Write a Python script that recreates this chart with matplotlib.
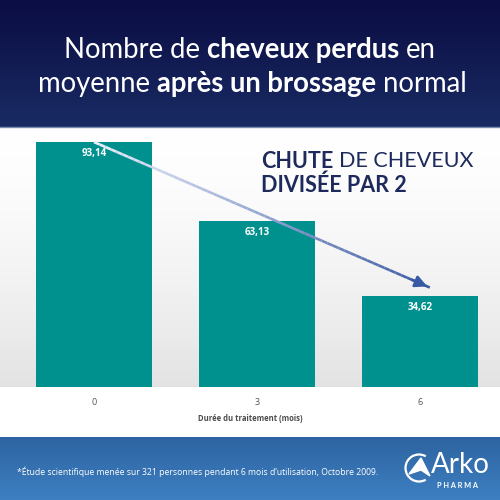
import numpy as np
import matplotlib
matplotlib.use('Agg')
import matplotlib.pyplot as plt
from matplotlib.collections import LineCollection
from matplotlib.patches import Arc, Polygon

# data
mois = ['0', '3', '6']
cheveux = [93.14, 63.13, 34.62]
etiquettes = ['93,14', '63,13', '34,62']

titre_l1 = [('Nombre de', 'normal'), ('cheveux perdus', 'bold'), ('en', 'normal')]
titre_l2 = [('moyenne', 'normal'), ('après un brossage', 'bold'), ('normal', 'normal')]
chute_l1 = [('CHUTE', 'bold'), ('DE CHEVEUX', 'normal')]
chute_l2 = [('DIVISÉE PAR 2', 'bold')]
x_label = 'Durée du traitement (mois)'
note = '*Étude scientifique menée sur 321 personnes pendant 6 mois d\u2019utilisation, Octobre 2009.'

W = 500
H = 500
fig = plt.figure(figsize=(5, 5), dpi=100)


def fy(y):
    # pixel row (from top) -> figure fraction
    return 1 - y / H


# backgrounds
bg = fig.add_axes([0, 0, 1, 1], zorder=0)
bg.set_xlim(0, W)
bg.set_ylim(H, 0)
bg.axis('off')

top = np.array([0.04, 0.05, 0.26])
bot = np.array([0.10, 0.17, 0.39])
g = np.linspace(0, 1, 100)[:, None, None]
bg.imshow(top + (bot - top) * g, extent=[0, W, 127, 0], aspect='auto')
bg.plot([0, W], [127, 127], color='#7b8bb0', lw=1)

c1 = np.array([1.0, 1.0, 1.0])
c2 = np.array([0.89, 0.89, 0.89])
bg.imshow(c1 + (c2 - c1) * g ** 1.5, extent=[0, W, 387, 128], aspect='auto')
bg.imshow(np.ones((2, 2, 3)), extent=[0, W, 437, 387], aspect='auto')

f1 = np.array([0.18, 0.39, 0.63])
f2 = np.array([0.24, 0.50, 0.76])
bg.imshow(f1 + (f2 - f1) * g, extent=[0, W, H, 437], aspect='auto')

# chart
ax = fig.add_axes([0, fy(387), 1, (387 - 127) / H], zorder=2)
ax.patch.set_alpha(0)
x = np.arange(len(mois))
ax.bar(x, cheveux, width=0.71, color='#00918f', zorder=2)
ax.set_xlim(-94 / 163, (W - 94) / 163)
ax.set_ylim(0, 260 / 2.63)
for s in ax.spines.values():
    s.set_visible(False)
ax.set_yticks([])
ax.set_xticks(x)
ax.set_xticklabels(mois, fontsize=6.5, color='#555555', family='Open Sans')
ax.tick_params(axis='x', length=0, pad=8)
ax.set_xlabel(x_label, fontsize=5.5, fontweight='bold', color='#4a4a4a',
              family='Open Sans', labelpad=5)

for xi, v, lab in zip(x, cheveux, etiquettes):
    ax.text(xi, v - 4.5, lab, ha='center', va='center', color='white',
            fontsize=7, fontweight='bold', family='Open Sans', zorder=4)

# gradient arrow from first bar to last bar
x0, y0 = x[0], cheveux[0]
x1, y1 = x[2] + 0.06, cheveux[2] + 3.2
t = np.linspace(0, 1, 60)
px = x0 + (x1 - x0) * t
py = y0 + (y1 - y0) * t
segs = np.stack([np.column_stack([px[:-1], py[:-1]]), np.column_stack([px[1:], py[1:]])], axis=1)
ca = np.array([0.93, 0.94, 0.99])
cb = np.array([0.22, 0.35, 0.64])
cols = ca + (cb - ca) * t[:-1, None]
ax.add_collection(LineCollection(segs, colors=cols, linewidths=1.9, zorder=5, capstyle='butt'))
ax.annotate('', xy=(x1, y1), xytext=(x1 - 0.06 * (x1 - x0), y1 - 0.06 * (y1 - y0)),
            arrowprops=dict(arrowstyle='-|>,head_length=0.7,head_width=0.35',
                            color=cb, lw=1.9), zorder=6)

renderer = fig.canvas.get_renderer()


def draw_pieces(pieces, y, size, color, family, x0=None, xc=None):
    probe = fig.text(0, 0, 'x x', fontsize=size, family=family)
    probe2 = fig.text(0, 0, 'xx', fontsize=size, family=family)
    gap = probe.get_window_extent(renderer).width - probe2.get_window_extent(renderer).width
    probe.remove()
    probe2.remove()
    texts = []
    widths = []
    for s, w in pieces:
        tt = fig.text(0, fy(y), s, fontsize=size, fontweight=w, color=color,
                      family=family, va='center', ha='left', zorder=10)
        texts.append(tt)
        widths.append(tt.get_window_extent(renderer).width)
    total = sum(widths) + gap * (len(pieces) - 1)
    start = x0 if x0 is not None else xc - total / 2
    cur = start
    for tt, w in zip(texts, widths):
        tt.set_x(cur / W)
        cur += w + gap


draw_pieces(titre_l1, 50, 19.8, 'white', 'Lato', xc=250)
draw_pieces(titre_l2, 84, 19.8, 'white', 'Lato', xc=252)
draw_pieces(chute_l1, 161, 15.5, '#1d2a5b', 'Lato', x0=261)
draw_pieces(chute_l2, 185, 15.5, '#1d2a5b', 'Lato', x0=261)

# footer
fig.text(17 / W, fy(472), note, fontsize=6.2, color='white', family='Open Sans',
         va='center', ha='left', zorder=10)
fig.text(431 / W, fy(465), 'Arko', fontsize=20, color='white', family='Lato',
         va='center', ha='left', zorder=10)
fig.text(437 / W, fy(486), 'P H A R M A', fontsize=5.3, color='white', family='Lato',
         fontweight='bold', va='center', ha='left', zorder=10)
bg.add_patch(Arc((419, 468), 27, 27, theta1=60, theta2=300, color='white', lw=1.6, zorder=10))
bg.add_patch(Polygon([[409, 474], [421, 458], [430, 476], [421, 470]], closed=True,
                     color='white', zorder=10))

fig.savefig('out.png', dpi=100)
